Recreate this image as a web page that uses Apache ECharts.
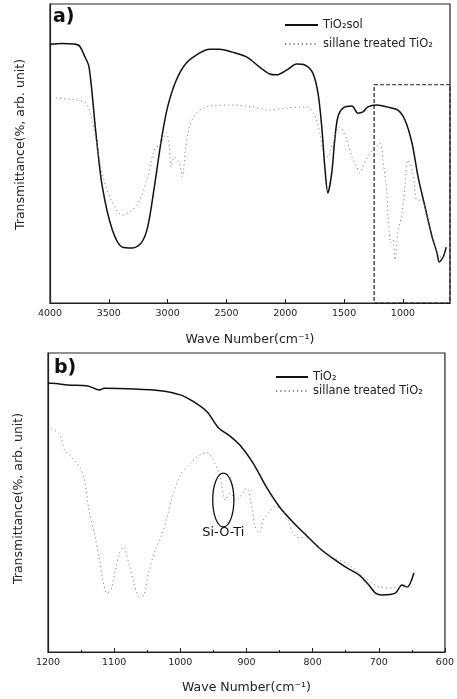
<!DOCTYPE html>
<html><head><meta charset="utf-8">
<script src="https://cdn.jsdelivr.net/npm/echarts@6/dist/echarts.min.js"></script>
<style>html,body{margin:0;padding:0;background:#fff}#c{width:457px;height:699px}</style>
</head><body><div id="c"></div>
<script>
// Panel a
const aSolWave = [4000,3900,3800,3750,3710,3668,3610,3555,3470,3386,3300,3224,3170,3113,3054,3000,2926,2841,2730,2645,2560,2449,2330,2218,2133,2073,1988,1903,1835,1766,1722,1690,1664,1638,1605,1580,1553,1510,1434,1383,1340,1298,1222,1136,1043,983,923,871,812,752,710,692,658,632];
const aSolVal = [86.5,86.8,86.6,86.0,82.9,78.9,56.9,38.8,24.4,18.7,18.4,20.1,25.4,38.8,54.5,65.6,74.6,80.3,83.6,84.9,84.9,83.9,82.3,78.9,76.6,76.3,77.9,79.9,79.6,76.9,70.2,58.9,45.5,36.8,43.5,54.5,62.2,65.2,65.9,63.5,63.9,65.6,66.2,65.6,64.5,61.2,53.5,42.1,32.1,22.1,16.7,13.7,15.4,18.7];
const aSilWave = [3950,3850,3778,3693,3650,3608,3557,3480,3386,3300,3224,3170,3113,3054,3011,2986,2970,2943,2900,2875,2849,2815,2756,2645,2449,2278,2133,1988,1818,1750,1707,1681,1638,1596,1536,1477,1434,1392,1366,1340,1298,1255,1195,1170,1136,1127,1102,1085,1067,1043,1008,983,957,914,880,840,800,750,700,660,640];
const aSilVal = [68.6,68.2,67.9,66.9,62.2,54.5,43.5,34.4,29.4,31.1,35.5,42.1,51.2,53.5,56.9,52.2,45.5,48.8,46.8,42.1,51.2,58.9,63.5,65.9,66.2,65.6,64.5,65.2,65.6,62.9,56.9,51.2,48.8,53.5,58.9,54.5,48.8,45.5,43.5,45.5,48.8,51.2,53.5,47.8,36.8,28.8,20.1,21.1,14.4,23.4,30.1,38.8,47.8,43.5,34.4,34.4,29.4,21.1,16.1,15.1,17.1];
const aTicks = [1000,1500,2000,2500,3000,3500,4000];
const aBox = [1245, 73]; // zoom-region box corner (wave, value)

// Panel b
const bSolWave = [1200,1195,1170,1140,1122,1115,1070,1030,1000,980,960,942,925,910,890,870,850,830,810,790,770,750,730,715,705,695,675,665,657,647];
const bSolVal = [89.9,89.9,89.3,89.0,87.6,88.2,88.0,87.4,86.0,83.7,80.4,74.9,72.2,69.2,63.2,55.2,48.5,43.5,39.1,34.8,31.4,28.4,25.8,22.4,19.7,19.1,19.7,22.4,21.7,26.4];
const bSilWave = [1195,1182,1175,1165,1152,1145,1138,1130,1122,1118,1111,1105,1098,1092,1086,1078,1070,1062,1055,1048,1038,1028,1020,1012,1000,985,970,960,950,940,932,925,915,900,892,887,880,875,867,857,845,837,830,820,810,790,770,745,720,700,680,665,650];
const bSilVal = [74.8,72.6,67.6,65.3,62.0,57.5,47.5,39.8,30.8,25.2,19.7,20.7,27.4,33.1,35.2,29.7,23.0,18.5,19.1,26.4,34.1,39.1,45.2,51.9,59.2,63.1,65.9,66.7,64.2,58.6,50.8,53.1,50.8,54.8,48.6,41.9,39.8,44.1,46.5,48.6,47.5,44.1,39.8,38.1,38.6,35.0,31.8,29.1,24.7,21.8,21.4,21.8,21.8];
const bTicks = [600,700,800,900,1000,1100,1200];
const ellipseAt = [935, 50.8, 16, 9]; // wave, value, half-width (wave), half-height (value)
const annotText = 'Si-O-Ti';
const annotAt = [935, 39.8];

const zip = (xs, ys) => xs.map((x, i) => [x, ys[i]]);
const FONT = 'DejaVu Sans';
const solidStyle = { color: '#111', width: 1.5, type: 'solid' };
const dotStyle = { color: '#888', width: 1, type: [1.2, 3] };
const noSym = { opacity: 0 };

const chart = echarts.init(document.getElementById('c'));
const xBase = {
  type: 'value', inverse: true, nameLocation: 'middle',
  nameTextStyle: { fontFamily: FONT, fontSize: 12.5, color: '#222' },
  axisLine: { show: true, lineStyle: { color: '#222', width: 1.2 } },
  splitLine: { show: false },
  axisLabel: { fontFamily: FONT, fontSize: 9.5, color: '#222', margin: 6, formatter: v => String(v) },
  axisTick: { show: true, inside: true, length: 4, lineStyle: { color: '#222' } }
};
const yBase = {
  type: 'value', min: 0, max: 100, nameLocation: 'middle', nameGap: 23,
  name: 'Transmittance(%, arb. unit)',
  nameTextStyle: { fontFamily: FONT, fontSize: 12.5, color: '#222' },
  axisLine: { show: true, lineStyle: { color: '#222', width: 1.2 } },
  axisLabel: { show: false }, axisTick: { show: false }, splitLine: { show: false }
};
chart.setOption({
  animation: false,
  backgroundColor: '#fff',
  grid: [
    { left: 50, right: 7, top: 4, bottom: 396, show: true, borderColor: '#222', borderWidth: 1.2 },
    { left: 48, right: 9, top: 353, bottom: 47, show: true, borderColor: '#222', borderWidth: 1.2 }
  ],
  xAxis: [
    Object.assign({}, xBase, { gridIndex: 0, min: 600, max: 4000, name: 'Wave Number(cm\u207B\u00B9)', nameGap: 30,
      axisLabel: Object.assign({}, xBase.axisLabel, { customValues: aTicks }),
      axisTick: Object.assign({}, xBase.axisTick, { customValues: aTicks }) }),
    Object.assign({}, xBase, { gridIndex: 1, min: 600, max: 1200, interval: 100, name: 'Wave Number(cm\u207B\u00B9)', nameGap: 29,
      minorTick: { show: true, splitNumber: 2, length: 2, lineStyle: { color: '#222' } } })
  ],
  yAxis: [
    Object.assign({}, yBase, { gridIndex: 0, nameTextStyle: Object.assign({}, yBase.nameTextStyle, { padding: [0, 0, 0, 18] }) }),
    Object.assign({}, yBase, { gridIndex: 1, nameTextStyle: Object.assign({}, yBase.nameTextStyle, { padding: [0, 0, 0, 8] }) })
  ],
  legend: [
    { orient: 'vertical', left: 279, top: 14, itemWidth: 33, itemHeight: 14, itemGap: 7, itemStyle: noSym,
      textStyle: { fontFamily: FONT, fontSize: 11.5, color: '#222' },
      data: ['TiO\u2082sol', 'sillane treated TiO\u2082'] },
    { orient: 'vertical', left: 270, top: 366, itemWidth: 32, itemHeight: 14, itemGap: 2, itemStyle: noSym,
      textStyle: { fontFamily: FONT, fontSize: 11.5, color: '#222' },
      data: ['TiO\u2082', 'sillane treated TiO\u2082 '] }
  ],
  series: [
    { name: 'TiO\u2082sol', type: 'line', xAxisIndex: 0, yAxisIndex: 0, data: zip(aSolWave, aSolVal), color: '#111',
      showSymbol: false, symbol: 'none', smooth: 0.3, lineStyle: solidStyle },
    { name: 'sillane treated TiO\u2082', type: 'line', xAxisIndex: 0, yAxisIndex: 0, data: zip(aSilWave, aSilVal), color: '#888',
      showSymbol: false, symbol: 'none', smooth: 0.3, lineStyle: dotStyle,
      markArea: { silent: true, itemStyle: { color: 'rgba(0,0,0,0)', borderColor: '#222', borderWidth: 1.2, borderType: [4, 2] },
        data: [[{ coord: [aBox[0], aBox[1]] }, { coord: [600, 0] }]] } },
    { name: 'TiO\u2082', type: 'line', xAxisIndex: 1, yAxisIndex: 1, data: zip(bSolWave, bSolVal), color: '#111',
      showSymbol: false, symbol: 'none', smooth: 0.3, lineStyle: solidStyle },
    { name: 'sillane treated TiO\u2082 ', type: 'line', xAxisIndex: 1, yAxisIndex: 1, data: zip(bSilWave, bSilVal), color: '#888',
      showSymbol: false, symbol: 'none', smooth: 0.3, lineStyle: dotStyle }
  ]
});

const c = chart.convertToPixel({ gridIndex: 1 }, [ellipseAt[0], ellipseAt[1]]);
const e2 = chart.convertToPixel({ gridIndex: 1 }, [ellipseAt[0] - ellipseAt[2], ellipseAt[1] + ellipseAt[3]]);
const t = chart.convertToPixel({ gridIndex: 1 }, annotAt);
chart.setOption({
  graphic: [
    { type: 'text', left: 53, top: 8, style: { text: 'a)', font: 'bold 19px "DejaVu Sans"', fill: '#111' } },
    { type: 'text', left: 54, top: 359, style: { text: 'b)', font: 'bold 19px "DejaVu Sans"', fill: '#111' } },
    { type: 'ellipse', shape: { cx: c[0], cy: c[1], rx: Math.abs(e2[0] - c[0]), ry: Math.abs(c[1] - e2[1]) },
      style: { fill: 'none', stroke: '#111', lineWidth: 1.3 }, z: 10 },
    { type: 'text', x: t[0], y: t[1], style: { text: annotText, font: '13px "DejaVu Sans"', fill: '#111', align: 'center', verticalAlign: 'middle' }, z: 10 }
  ]
});
</script></body></html>
